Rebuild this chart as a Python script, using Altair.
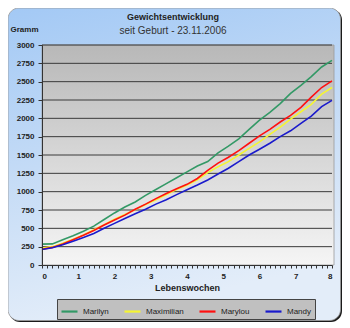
import altair as alt
import pandas as pd

# Data (every 2 days, day 0..56), weight in grams
days = list(range(0, 57, 2))
marilyn = [285, 288, 345, 400, 460, 530, 620, 710, 790, 860, 950, 1030, 1110, 1190, 1270,
           1350, 1410, 1530, 1620, 1720, 1850, 1975, 2080, 2200, 2340, 2450, 2570, 2700, 2790]
maximilian = [230, 250, 295, 350, 410, 480, 550, 625, 690, 755, 825, 890, 960, 1030, 1090,
              1160, 1260, 1340, 1410, 1500, 1590, 1680, 1780, 1880, 1990, 2090, 2190, 2330, 2420]
marylou = [215, 240, 285, 345, 405, 470, 545, 614, 680, 760, 830, 905, 975, 1040, 1100,
           1180, 1290, 1390, 1470, 1560, 1660, 1760, 1850, 1950, 2040, 2150, 2290, 2420, 2510]
mandy = [212, 235, 275, 325, 375, 430, 500, 568, 635, 700, 760, 830, 890, 960, 1025,
         1090, 1160, 1240, 1320, 1410, 1500, 1578, 1660, 1750, 1830, 1930, 2030, 2160, 2245]

names = ["Marilyn", "Maximilian", "Marylou", "Mandy"]
colors = ["#339966", "#f5f532", "#ff1010", "#1a1acc"]
y_ticks = list(range(0, 3001, 250))
x_ticks = [d / 7 for d in range(0, 57)]
title_text = "Gewichtsentwicklung"
subtitle_text = "seit Geburt -  23.11.2006"

rows = []
for n, vals in zip(names, [marilyn, maximilian, marylou, mandy]):
    for d, v in zip(days, vals):
        rows.append({"week": d / 7, "gramm": v, "name": n})
df = pd.DataFrame(rows)

W, H = 290, 220
FONT = "Liberation Sans"

one = alt.Data(values=[{"k": 1}])

shadow = alt.Chart(one).mark_rect(cornerRadius=11, fill="#1a1a1a").encode(
    x=alt.value(-33), x2=alt.value(300), y=alt.value(-36), y2=alt.value(277))

panel = alt.Chart(one).mark_rect(
    cornerRadius=11, stroke="#9a9a9a", strokeWidth=0.8,
    fill=alt.LinearGradient(gradient="linear", x1=0, y1=0, x2=0.25, y2=1,
                            stops=[alt.GradientStop(color="#a3c9f5", offset=0),
                                   alt.GradientStop(color="#c4dbf6", offset=0.5),
                                   alt.GradientStop(color="#e3edf9", offset=1)])
).encode(x=alt.value(-34), x2=alt.value(298.5), y=alt.value(-37), y2=alt.value(275.5))

plotbg = alt.Chart(one).mark_rect(
    fill=alt.LinearGradient(gradient="linear", x1=0, y1=0, x2=0, y2=1,
                            stops=[alt.GradientStop(color="#b8b8b8", offset=0),
                                   alt.GradientStop(color="#f5f5f5", offset=1)]),
    stroke="#9a9a9a", strokeWidth=0.8
).encode(x=alt.value(0), x2=alt.value(W + 2), y=alt.value(0), y2=alt.value(H))

title1 = alt.Chart(one).mark_text(font=FONT, fontSize=9, fontWeight="bold", color="#222",
                                  align="center", baseline="alphabetic").encode(
    text=alt.value(title_text), x=alt.value(W / 2 - 14), y=alt.value(-25))
title2 = alt.Chart(one).mark_text(font=FONT, fontSize=10, color="#333",
                                  align="center", baseline="alphabetic").encode(
    text=alt.value(subtitle_text), x=alt.value(W / 2 - 14), y=alt.value(-11))

y_scale = alt.Scale(domain=[0, 3000], nice=False)
y_axis = alt.Axis(values=y_ticks, format="d", labelOverlap=False, tickCount=13,
                  title="Gramm", grid=False, tickSize=4,
                  labelPadding=4, labelFont=FONT, labelFontSize=8,
                  labelFontWeight="bold", labelColor="#222",
                  tickColor="#333", domainColor="#333",
                  titleAngle=0, titleX=-32, titleY=-12, titleAlign="left",
                  titleBaseline="bottom", titleFont=FONT, titleFontSize=8,
                  titleFontWeight="bold", titleColor="#222", zindex=2)

grid = alt.Chart(pd.DataFrame({"v": y_ticks[1:]})).mark_rule(
    color="#3a3a3a", strokeWidth=1).encode(
    y=alt.Y("v:Q", scale=y_scale, axis=y_axis, title="Gramm"))

lines = alt.Chart(df).mark_line(strokeWidth=1.6).encode(
    x=alt.X("week:Q",
            scale=alt.Scale(domain=[0, 8], nice=False, zero=False),
            axis=alt.Axis(values=x_ticks, title="Lebenswochen",
                          labelExpr="abs(datum.value - round(datum.value)) < 0.001 ? format(round(datum.value), 'd') : ''",
                          labelOverlap=False, grid=False, tickSize=3, labelPadding=4,
                          labelFont=FONT, labelFontSize=8, labelFontWeight="bold",
                          labelColor="#222", tickColor="#333", domainColor="#333",
                          titleFont=FONT, titleFontSize=9, titleFontWeight="bold",
                          titleColor="#222", titlePadding=3, zindex=2)),
    y=alt.Y("gramm:Q", scale=y_scale, axis=y_axis, title="Gramm"),
    color=alt.Color("name:N",
                    scale=alt.Scale(domain=names, range=colors),
                    legend=alt.Legend(title=None, orient="none", legendX=15, legendY=254,
                                      direction="horizontal", fillColor="#c0c0c0",
                                      strokeColor="#444", padding=3,
                                      symbolType="stroke", symbolStrokeWidth=2.2,
                                      symbolSize=256, columnPadding=11,
                                      labelFont=FONT, labelFontSize=8, labelOffset=4,
                                      labelColor="#222", zindex=2)),
)

chart = alt.layer(shadow, panel, plotbg, title1, title2, grid, lines).properties(
    width=W, height=H,
    autosize=alt.AutoSizeParams(type="none"),
    padding={"left": 34, "top": 37, "right": 10, "bottom": 57},
    background="white",
).configure_view(stroke=None)

chart.save("out.html", embed_options={"renderer": "svg", "actions": False})
